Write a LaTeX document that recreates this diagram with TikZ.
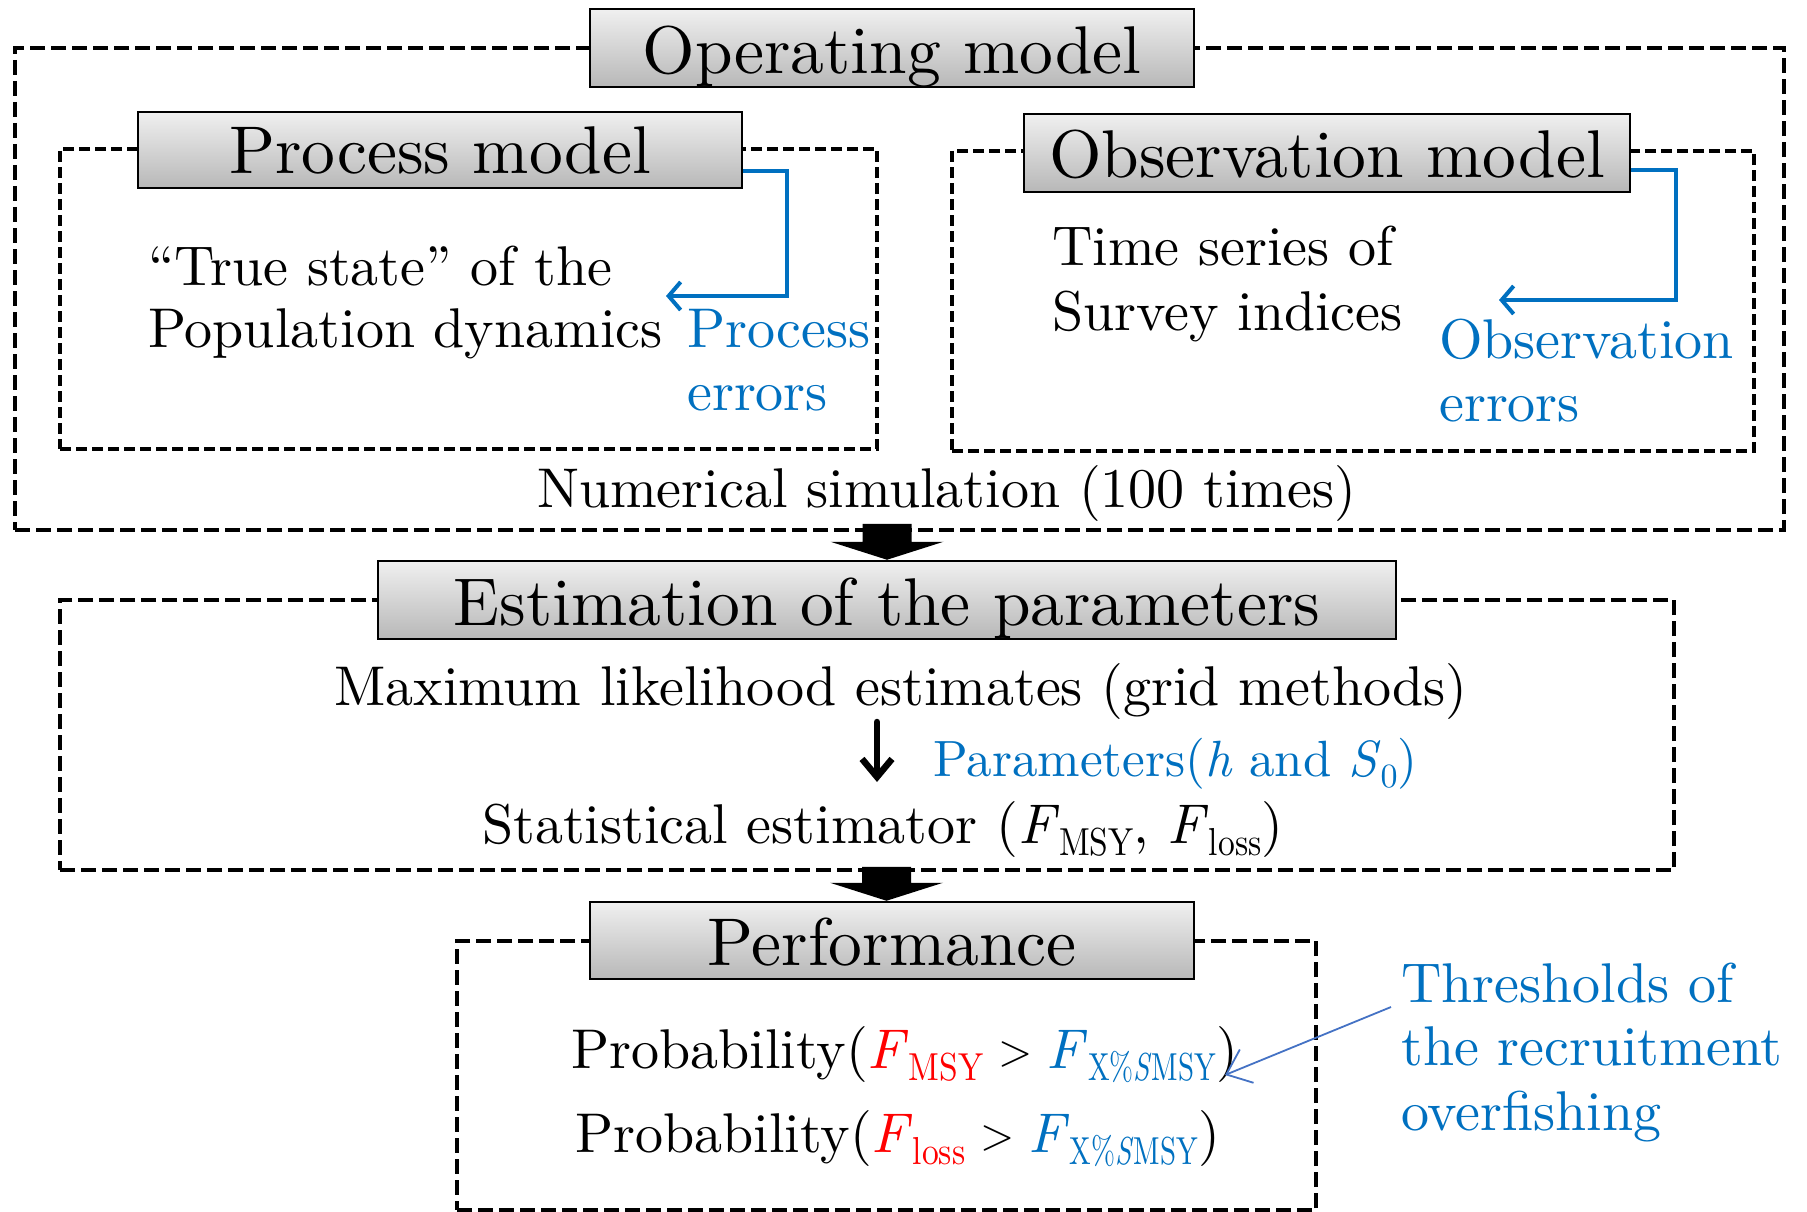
\documentclass[tikz,border=0pt]{standalone}
\usepackage{fontspec}
\usepackage{graphicx}
\setmainfont{lmroman10}[Extension=.otf, UprightFont=*-regular, ItalicFont=*-italic, BoldFont=*-bold]
\usetikzlibrary{arrows.meta}
\definecolor{tblue}{RGB}{0,112,192}
\definecolor{lblue}{RGB}{68,114,196}
\newcommand\lowsub[2][0.86]{\raisebox{-12pt}{\scalebox{#1}[1]{\fontsize{39}{40}\selectfont #2}}}
\newcommand\gtrel{\hspace{-4pt}\raisebox{3pt}{\fontsize{44}{44}\selectfont >}\hspace{-4pt}}
\tikzset{
  hdr/.style={draw=black, line width=2.5pt, top color=black!6, bottom color=black!28,
    inner sep=0pt, font=\fontsize{67.5}{70}\selectfont},
  dbox/.style={draw=black, line width=4.8pt, dash pattern=on 15pt off 6pt, inner sep=0pt},
  dboxin/.style={draw=black, line width=3.6pt, dash pattern=on 11pt off 5pt, inner sep=0pt},
  body/.style={inner sep=0pt, anchor=base west, font=\fontsize{56}{63}\selectfont},
  bluebody/.style={body, text=tblue},
  errarrow/.style={draw=tblue, line width=4pt, -{Straight Barb[length=12pt,width=28pt]}},
  blockarrow/.style={fill=black},
  estarrow/.style={draw=black, line width=6.5pt, line cap=round,
    -{Straight Barb[length=18pt,width=30pt]}},
  thrarrow/.style={draw=lblue, line width=1.8pt, -{Straight Barb[length=22pt,width=36pt]}},
}
\begin{document}
\begin{tikzpicture}[x=1pt,y=-1pt]
\useasboundingbox (0,0) rectangle (1807,1212);
% dashed frames
\node[dbox, minimum width=1769pt, minimum height=482pt] (outer) at (899.5,289) {};
\node[dboxin, minimum width=817pt, minimum height=300pt] (procbox) at (468.5,299) {};
\node[dboxin, minimum width=802pt, minimum height=300pt] (obsbox) at (1353,301) {};
\node[dbox, minimum width=1614pt, minimum height=270pt] (estbox) at (867,735) {};
\node[dbox, minimum width=859pt, minimum height=269pt] (perfbox) at (886.5,1075.5) {};
% header boxes
\node[hdr, minimum width=604pt, text height=65pt, text depth=13pt] (om) at (892,48) {Operating model};
\node[hdr, minimum width=604pt, text height=62pt, text depth=14pt] (pm) at (440,150) {Process model};
\node[hdr, minimum width=606pt, text height=63pt, text depth=15pt] (obm) at (1327,153) {Observation model};
\node[hdr, minimum width=1018pt, text height=64pt, text depth=14pt] (est) at (887,600) {Estimation of the parameters};
\node[hdr, minimum width=604pt, text height=63pt, text depth=14pt] (perf) at (892,940.5) {Performance};
% block arrows
\fill[blockarrow] (est.north) -- ++(-56.5,-18) -- ++(32,0) -- ++(0,-18) -- ++(49,0) -- ++(0,18) -- ++(32,0) -- cycle;
\fill[blockarrow] ([xshift=-5.5pt]perf.north) -- ++(-56.5,-18) -- ++(32,0) -- ++(0,-16) -- ++(49,0) -- ++(0,16) -- ++(32,0) -- cycle;
% process model texts
\node[body] (ts1) at (148,285) {“True state” of the};
\node[body] (ts2) at (148,347) {Population dynamics};
\node[bluebody] (pe1) at (687,347) {Process};
\node[bluebody] (pe2) at (687,410) {errors};
% observation model texts
\node[body] (os1) at (1052,265) {Time series of};
\node[body] (os2) at (1052,330) {Survey indices};
\node[bluebody] (oe1) at (1439,358) {Observation};
\node[bluebody] (oe2) at (1439,421) {errors};
\node[body] (sim) at (537,507) {Numerical simulation (100 times)};
% estimation texts
\node[body] (ml) at (334,705) {Maximum likelihood estimates (grid methods)};
\node[bluebody, font=\fontsize{51}{60}\selectfont] (par) at (933,776) {Parameters(\textit{h} and \textit{S}\raisebox{-11pt}{\fontsize{34}{36}\selectfont 0})};
\node[body] (stat) at (482,843) {Statistical estimator (\textit{F}\lowsub{MSY}, \textit{F}\lowsub{loss})};
% performance texts
\node[body] (pr1) at (571,1068) {Probability(\textcolor{red}{\textit{F}\lowsub{MSY}} \gtrel{} \textcolor{tblue}{\textit{F}\lowsub[0.74]{X\%\textit{S}MSY}})};
\node[body] (pr2) at (575,1152) {Probability(\textcolor{red}{\textit{F}\lowsub{loss}} \gtrel{} \textcolor{tblue}{\textit{F}\lowsub[0.74]{X\%\textit{S}MSY}})};
\node[bluebody] (th1) at (1401,1002) {Thresholds of};
\node[bluebody] (th2) at (1401,1065) {the recruitment};
\node[bluebody] (th3) at (1401,1130) {overfishing};
% connectors
\coordinate (pend) at (666,296);
\draw[errarrow] ([yshift=-21pt]pm.east) -- ++(44,0) |- (pend);
\coordinate (oend) at (1499,300);
\draw[errarrow] ([yshift=-17pt]obm.east) -- ++(45,0) |- (oend);
\coordinate (mltop) at (877,722);
\coordinate (mlbot) at (877,782);
\draw[estarrow] (mltop) -- (mlbot);
\coordinate (thstart) at (1391,1007);
\coordinate (thend) at (1225,1075);
\draw[thrarrow] (thstart) -- (thend);
\end{tikzpicture}
\end{document}
